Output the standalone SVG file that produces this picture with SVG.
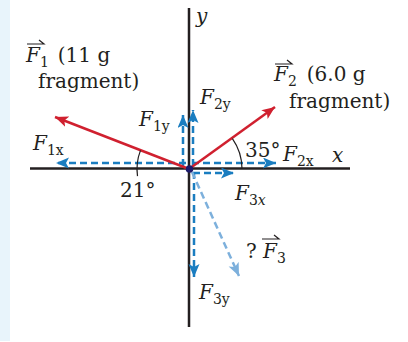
<svg xmlns="http://www.w3.org/2000/svg" width="408" height="342" viewBox="0 0 408 342">
<defs>
<style>
.t{font-family:"DejaVu Serif","Liberation Serif",serif;font-size:20px;fill:#231f20}
.i{font-style:italic}
.s{font-size:14px}
.red{stroke:#d0202f;stroke-width:2.5;fill:none}
.blue{stroke:#1a7dc0;stroke-width:2.5;fill:none;stroke-dasharray:7 4}
.lb{stroke:#7db0dc;stroke-width:2.5;fill:none;stroke-dasharray:7 4}
.ax{stroke:#231f20;stroke-width:2.5;fill:none}
.ov{stroke:#231f20;stroke-width:1.2;fill:none}
</style>
<marker id="ar" markerUnits="userSpaceOnUse" markerWidth="14" markerHeight="12" refX="13" refY="5.5" orient="auto"><path d="M0,0 L13,5.5 L0,11 L3,5.5 z" fill="#d0202f"/></marker>
<marker id="ab" markerUnits="userSpaceOnUse" markerWidth="14" markerHeight="12" refX="13" refY="5.5" orient="auto"><path d="M0,0 L13,5.5 L0,11 L3,5.5 z" fill="#1a7dc0"/></marker>
<marker id="al" markerUnits="userSpaceOnUse" markerWidth="14" markerHeight="12" refX="13" refY="5.5" orient="auto"><path d="M0,0 L13,5.5 L0,11 L3,5.5 z" fill="#7db0dc"/></marker>
</defs>
<rect x="0" y="0" width="408" height="342" fill="#fff"/>
<rect x="0" y="0" width="10" height="341" fill="#e8f4fb"/>
<g id="axes">
<path class="ax" d="M189,8 L189,327"/>
<path class="ax" d="M30,168.5 L350,168.5"/>
</g>
<g id="connectors">
<path class="blue" d="M186,163 L56,163" marker-end="url(#ab)"/>
<path class="blue" d="M183,166 L183,115" marker-end="url(#ab)"/>
<path class="blue" d="M193,166 L193,110" marker-end="url(#ab)"/>
<path class="blue" d="M192,163 L276,163" marker-end="url(#ab)"/>
<path class="blue" d="M193,173 L234,173" marker-end="url(#ab)"/>
<path class="blue" d="M194,172 L194,277" marker-end="url(#ab)"/>
<path class="lb" d="M192,172 L239,276" marker-end="url(#al)"/>
<path class="red" d="M189,169 L55,117" marker-end="url(#ar)"/>
<path class="red" d="M189,169 L275,107" marker-end="url(#ar)"/>
<path class="ov" d="M232.4,138.6 A53,53 0 0 1 242,168.5"/>
<path class="ov" d="M140.5,150.4 A52,52 0 0 0 137.5,176.2"/>
</g>
<g id="origin"><circle cx="189.5" cy="169" r="3.8" fill="#1c1a6b"/></g>
<g id="label-y"><text class="t i" x="196" y="23">y</text></g>
<g id="label-x"><text class="t i" x="332" y="162">x</text></g>
<g id="label-F1">
<path class="ov" d="M27,44 L44,44 L39,40"/>
<text class="t" x="26" y="62"><tspan class="i">F</tspan><tspan class="s" dy="5">1</tspan><tspan dy="-5" dx="9">(11 g</tspan></text>
<text class="t" x="38" y="88">fragment)</text>
</g>
<g id="label-F2">
<path class="ov" d="M275,64 L292,64 L287,60"/>
<text class="t" x="274" y="81"><tspan class="i">F</tspan><tspan class="s" dy="5">2</tspan><tspan dy="-5" dx="10">(6.0 g</tspan></text>
<text class="t" x="289" y="108">fragment)</text>
</g>
<g id="label-F1y"><text class="t" x="139" y="126"><tspan class="i">F</tspan><tspan class="s" dy="5">1y</tspan></text></g>
<g id="label-F2y"><text class="t" x="200" y="104"><tspan class="i">F</tspan><tspan class="s" dy="5">2y</tspan></text></g>
<g id="label-F1x"><text class="t" x="33" y="150"><tspan class="i">F</tspan><tspan class="s" dy="5">1x</tspan></text></g>
<g id="label-21"><text class="t" x="120" y="197">21°</text></g>
<g id="label-35"><text class="t" x="245" y="157">35°</text></g>
<g id="label-F2x"><text class="t" x="283" y="161"><tspan class="i">F</tspan><tspan class="s" dy="5">2x</tspan></text></g>
<g id="label-F3x"><text class="t" x="235" y="200"><tspan class="i">F</tspan><tspan class="s" dy="5">3<tspan class="i">x</tspan></tspan></text></g>
<g id="label-F3">
<path class="ov" d="M262,239 L279,239 L274,235"/>
<text class="t" x="246" y="258">? <tspan class="i">F</tspan><tspan class="s" dy="5">3</tspan></text>
</g>
<g id="label-F3y"><text class="t" x="199" y="299"><tspan class="i">F</tspan><tspan class="s" dy="5">3y</tspan></text></g>
</svg>
